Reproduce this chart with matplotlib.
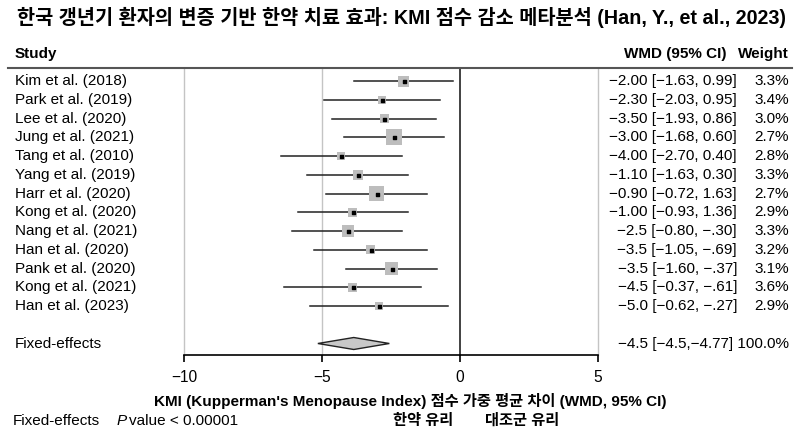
import matplotlib
matplotlib.use("Agg")
import matplotlib.pyplot as plt
from matplotlib.patches import Polygon
from matplotlib.transforms import blended_transform_factory
from matplotlib.lines import Line2D

plt.rcParams['font.family'] = ['Liberation Sans', 'Noto Sans CJK KR', 'DejaVu Sans']
plt.rcParams['axes.unicode_minus'] = True

studies = ["Kim et al. (2018)", "Park et al. (2019)", "Lee et al. (2020)", "Jung et al. (2021)",
           "Tang et al. (2010)", "Yang et al. (2019)", "Harr et al. (2020)", "Kong et al. (2020)",
           "Nang et al. (2021)", "Han et al. (2020)", "Pank et al. (2020)", "Kong et al. (2021)",
           "Han et al. (2023)"]
est = [-2.04, -2.84, -2.75, -2.39, -4.31, -3.70, -3.02, -3.88, -4.07, -3.24, -2.48, -3.89, -2.93]
ci_lo = [-3.83, -4.91, -4.63, -4.20, -6.50, -5.54, -4.84, -5.88, -6.07, -5.30, -4.12, -6.36, -5.42]
ci_hi = [-0.24, -0.72, -0.88, -0.58, -2.10, -1.87, -1.20, -1.87, -2.09, -1.18, -0.83, -1.42, -0.44]
box_px = [11, 8, 9, 16, 8, 10, 15, 9, 12, 9, 13, 9, 8]
wmd_text = ["−2.00 [−1.63, 0.99]", "−2.30 [−2.03, 0.95]", "−3.50 [−1.93, 0.86]",
            "−3.00 [−1.68, 0.60]", "−4.00 [−2.70, 0.40]", "−1.10 [−1.63, 0.30]",
            "−0.90 [−0.72, 1.63]", "−1.00 [−0.93, 1.36]", "−2.5 [−0.80, −.30]",
            "−3.5 [−1.05, −.69]", "−3.5 [−1.60, −.37]", "−4.5 [−0.37, −.61]",
            "−5.0 [−0.62, −.27]"]
weights = ["3.3%", "3.4%", "3.0%", "2.7%", "2.8%", "3.3%", "2.7%", "2.9%", "3.3%",
           "3.2%", "3.1%", "3.6%", "2.9%"]
pooled_label = "Fixed-effects"
pooled_est = -3.85
pooled_lo = -5.15
pooled_hi = -2.56
pooled_text = "−4.5 [−4.5,−4.77] 100.0%"
xticks = [-10, -5, 0, 5]

W, H = 800, 436
fig = plt.figure(figsize=(W / 100, H / 100), dpi=100)

def fx(px):
    return px / W

def fy(py):
    return 1 - py / H

ax_top, ax_bot = 68, 355
ax = fig.add_axes([fx(184), fy(ax_bot), fx(598) - fx(184), (ax_bot - ax_top) / H])
row0, drow = 81, 18.75
ax.set_xlim(-10, 5)
ax.set_ylim((ax_bot - row0) / drow, (ax_top - row0) / drow)

for s in ['top', 'right', 'left']:
    ax.spines[s].set_visible(False)
ax.spines['bottom'].set_linewidth(1.2)
ax.set_yticks([])
ax.set_xticks(xticks)
ax.set_xticklabels([("−" + str(abs(t))) if t < 0 else str(t) for t in xticks])
ax.tick_params(axis='x', direction='out', length=5, width=1.2, labelsize=11.2, pad=6)

for t in xticks:
    if t == 0:
        ax.axvline(t, color='#333333', lw=1.3, zorder=1, clip_on=False)
    else:
        ax.axvline(t, color='#c4c4c4', lw=1.0, zorder=1, clip_on=False)

rows = list(range(len(studies)))
for i in rows:
    ax.plot([ci_lo[i], ci_hi[i]], [i, i], color='#222222', lw=1.1, zorder=2)
ax.scatter(est, rows, marker='s', s=[(p * 0.72) ** 2 for p in box_px],
           color='#bdbdbd', edgecolors='none', zorder=3)
ax.scatter(est, rows, marker='s', s=(3 * 0.72) ** 2, color='black', zorder=4)

prow = len(studies) + 1
h = 6 / drow
diamond = Polygon([(pooled_lo, prow), (pooled_est, prow - h), (pooled_hi, prow),
                   (pooled_est, prow + h)], closed=True, facecolor='#c8c8c8',
                  edgecolor='#222222', lw=1.0, zorder=3)
ax.add_patch(diamond)

tr = blended_transform_factory(fig.transFigure, ax.transData)
fs = 11
for i in rows:
    fig.text(fx(15), i, studies[i], transform=tr, ha='left', va='center', fontsize=fs)
    fig.text(fx(737), i, wmd_text[i], transform=tr, ha='right', va='center', fontsize=fs)
    fig.text(fx(789), i, weights[i], transform=tr, ha='right', va='center', fontsize=fs)
fig.text(fx(15), prow, pooled_label, transform=tr, ha='left', va='center', fontsize=fs)
fig.text(fx(789), prow, pooled_text, transform=tr, ha='right', va='center', fontsize=fs)

# header
fig.text(fx(15), fy(54), "Study", ha='left', va='center', fontsize=fs, fontweight='bold')
fig.text(fx(726), fy(54), "WMD (95% CI)", ha='right', va='center', fontsize=fs, fontweight='bold')
fig.text(fx(789), fy(54), "Weight", ha='right', va='center', fontsize=fs, fontweight='bold')
fig.add_artist(Line2D([fx(8), fx(792)], [fy(68), fy(68)], color='#555555', lw=1.5))

# title
fig.text(fx(402), fy(17), "한국 갱년기 환자의 변증 기반 한약 치료 효과: KMI 점수 감소 메타분석 (Han, Y., et al., 2023)",
         ha='center', va='center', fontsize=14.2, fontweight='bold')

# x label
fig.text(fx(410), fy(401), "KMI (Kupperman's Menopause Index) 점수 가중 평균 차이 (WMD, 95% CI)",
         ha='center', va='center', fontsize=fs, fontweight='bold')

# bottom line
fig.text(fx(13), fy(421), "Fixed-effects", ha='left', va='center', fontsize=fs)
fig.text(fx(117), fy(421), "P", ha='left', va='center', fontsize=fs, style='italic')
fig.text(fx(129), fy(421), "value < 0.00001", ha='left', va='center', fontsize=fs)
fig.text(fx(393), fy(421), "한약 유리", ha='left', va='center', fontsize=fs, fontweight='bold')
fig.text(fx(485), fy(421), "대조군 유리", ha='left', va='center', fontsize=fs, fontweight='bold')

fig.savefig("out.png", dpi=100)
